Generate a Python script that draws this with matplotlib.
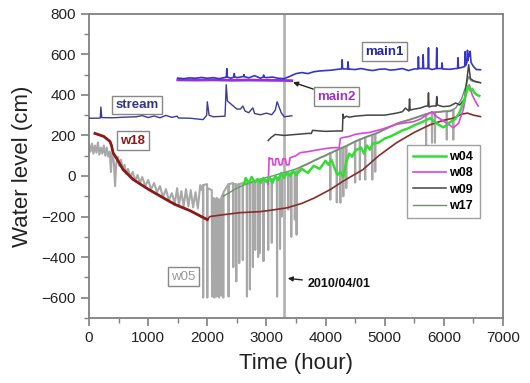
import matplotlib
matplotlib.use("Agg")
import matplotlib.pyplot as plt
from matplotlib.ticker import MultipleLocator

plt.rcParams['font.family'] = ['Liberation Sans', 'DejaVu Sans']

# ---------------- data (hour, water level cm) ----------------
main1_t = [1500, 1600, 1700, 1800, 1900, 2000, 2100, 2200, 2300, 2322,
           2330, 2338, 2400, 2450, 2455, 2462, 2500, 2600, 2612, 2620,
           2628, 2700, 2800, 2900, 2945, 2952, 2960, 3000, 3100, 3200,
           3300, 3400, 3500, 3600, 3700, 3800, 3900, 4000, 4100, 4200,
           4272, 4280, 4288, 4300, 4372, 4380, 4388, 4400, 4500, 4600,
           4700, 4800, 4900, 5000, 5100, 5200, 5300, 5400, 5500, 5562,
           5570, 5578, 5642, 5650, 5658, 5732, 5740, 5748, 5800, 5872,
           5880, 5888, 5900, 5962, 5970, 5978, 6100, 6200, 6232, 6240,
           6248, 6300, 6352, 6360, 6368, 6390, 6400, 6410, 6420, 6430,
           6445, 6460, 6500, 6550, 6620]
main1_v = [483, 480, 484, 482, 486, 482, 485, 480, 486, 488,
           529, 488, 482, 488, 505, 490, 485, 490, 490, 500,
           490, 484, 495, 482, 488, 498, 488, 485, 488, 482,
           480, 492, 505, 510, 505, 514, 518, 520, 522, 526,
           528, 573, 530, 528, 528, 563, 528, 527, 525, 530,
           524, 520, 526, 528, 522, 525, 530, 520, 528, 528,
           588, 530, 530, 598, 530, 530, 632, 530, 525, 530,
           632, 530, 530, 530, 558, 528, 526, 530, 530, 583,
           532, 535, 540, 613, 545, 560, 620, 570, 600, 590,
           615, 560, 540, 525, 524]

main2_t = [1500, 1800, 2100, 2400, 2700, 3000, 3300, 3430]
main2_v = [474, 473, 474, 472, 473, 472, 471, 470]

stream_t = [0, 150, 190, 200, 215, 400, 600, 800, 900, 1000,
            1100, 1200, 1300, 1400, 1490, 1510, 1700, 1930, 1990, 2000,
            2030, 2100, 2300, 2320, 2340, 2420, 2500, 2560, 2600, 2640,
            2700, 2770, 2800, 2900, 3000, 3090, 3150, 3180, 3250, 3300,
            3430]
stream_v = [285, 285, 286, 340, 288, 287, 290, 292, 298, 288,
            296, 287, 299, 289, 295, 286, 285, 278, 300, 366,
            300, 292, 295, 450, 370, 350, 330, 330, 345, 320,
            312, 336, 308, 302, 310, 302, 325, 366, 312, 292,
            297]

w18_t = [100, 250, 355, 380, 406, 500, 575, 744, 1000, 1250, 1450, 1700, 1800, 1930, 2000,
         2046, 2300, 2553, 2890, 3100, 3350, 3600, 3800, 4080, 4300, 4530, 4630, 4900, 5200,
         5500, 5770, 6000, 6160, 6300, 6400, 6500, 6620]
w18_v = [210, 195, 170, 150, 115, 70, 32, -17, -65, -107, -140, -170, -185, -205, -215,
         -200, -190, -181, -176, -168, -157, -135, -110, -67, -25, 14, 31, 100, 164,
         215, 253, 275, 285, 305, 310, 300, 293]

w05_t = [0, 25, 50, 75, 100, 125, 150, 175, 200, 225, 250, 275, 300, 325, 350, 370, 390, 420,
         440, 460, 490, 510, 540, 570, 600, 630, 660, 700, 740, 780, 820, 860, 900, 950, 1000,
         1050, 1100, 1150, 1200, 1250, 1300, 1350, 1400, 1450, 1490, 1520, 1560, 1600, 1640,
         1680, 1720, 1760, 1800, 1840, 1880, 1910,
         1926, 1930, 1934, 1996, 2000, 2004, 2076, 2080, 2084, 2116, 2120, 2124,
         2156, 2160, 2164, 2196, 2200, 2204, 2236, 2240, 2244, 2266, 2270, 2274,
         2356, 2360, 2364, 2436, 2440, 2444, 2486, 2490, 2494, 2536, 2540, 2544,
         2596, 2600, 2604, 2666, 2670, 2674, 2716, 2720, 2724, 2766, 2770, 2774,
         2806, 2810, 2814, 2856, 2860, 2864, 2886, 2890, 2894, 2946, 2950, 2954,
         3026, 3030, 3034, 3086, 3090, 3094, 3176, 3180, 3184, 3226, 3230, 3234,
         3256, 3260, 3264, 3366, 3370, 3374, 3416, 3420, 3424, 3476, 3480, 3484,
         3506, 3510, 3514,
         3600, 3700, 3800, 3900, 4000,
         4076, 4080, 4084, 4186, 4190, 4194, 4246, 4250, 4254, 4296, 4300, 4304,
         4346, 4350, 4354, 4496, 4500, 4504, 4576, 4580, 4584, 4666, 4670, 4674,
         4786, 4790, 4794, 4836, 4840, 4844, 5000, 5200, 5400, 5600,
         5696, 5700, 5704, 5796, 5800, 5804, 5846, 5850, 5854, 6046, 6050, 6054,
         6156, 6160, 6164]
w05_v = [155, 120, 160, 110, 150, 115, 165, 105, 140, 110, 150, 100, 140, 95, 120, 20, 110, 70,
         -50, 60, 95, 50, 80, 30, 55, 10, 35, -5, 20, -25, 5, -35, -5, -50, -20,
         -65, -35, -80, -50, -105, -65, -120, -85, -135, -60, -145, -75, -150, -65,
         -150, -70, -155, -80, -160, -45, -70,
         -45, -600, -45, -40, -600, -60, -70, -595, -110, -110, -600, -120,
         -110, -595, -110, -120, -600, -120, -110, -590, -100, -90, -600, -80,
         -40, -595, -40, -35, -450, -40, -40, -520, -45, -40, -430, -40,
         -35, -415, -35, -35, -595, -40, -35, -560, -35, -30, -450, -30,
         -30, -365, -30, -25, -400, -25, -25, -380, -25, -20, -420, -20,
         -20, -365, -20, -15, -330, -15, -10, -595, -10, -5, -360, -5,
         0, -200, 0, 10, -166, 10, 15, -300, 15, 20, -215, 20,
         25, -290, 25,
         47, 60, 75, 88, 100,
         113, -117, 113, 128, -130, 128, 137, -132, 137, 141, -100, 141,
         148, -60, 148, 170, -33, 170, 180, -18, 180, 190, -18, 190,
         203, -18, 203, 208, 21, 208, 230, 257, 276, 295,
         305, 150, 305, 313, 164, 313, 314, 164, 314, 319, 179, 319,
         325, 179, 325]

w04_t = [2620, 2650, 2700, 2750, 2800, 2850, 2900, 2950, 3000, 3050, 3100, 3150, 3200, 3250,
         3300, 3350, 3400, 3450, 3500, 3600, 3700, 3800, 3900, 4000, 4050, 4100, 4150, 4200,
         4250, 4300, 4350, 4400, 4450, 4500, 4600, 4650, 4700, 4750, 4800, 4900, 5000, 5100,
         5200, 5300, 5400, 5500, 5600, 5700, 5770, 5850, 5900, 5990, 6050, 6100, 6190, 6260,
         6330, 6380, 6410, 6450, 6480, 6520, 6560, 6600]
w04_v = [-40, -10, -35, -5, -30, -15, -35, -10, -30, -5, -35, 0, -20, 15,
         -10, 20, 0, 25, 5, 35, 15, 50, 35, 75, 55, 80, 40, 5,
         20, -5, 70, 110, 95, 125, 140, 110, 150, 130, 160, 165, 185, 195,
         210, 225, 235, 250, 262, 275, 285, 265, 255, 240, 250, 265, 280, 310,
         360, 410, 445, 420, 430, 410, 400, 395]

w08_t = [3030, 3045, 3060, 3100, 3110, 3150, 3160, 3200, 3220, 3260, 3280, 3320, 3340, 3380,
         3400, 3500, 3570, 3700, 3850, 4000, 4100, 4230, 4250, 4300, 4400, 4500, 4600, 4750,
         4920, 5050, 5200, 5350, 5490, 5600, 5700, 5800, 5880, 5950, 6050, 6160, 6250, 6330,
         6390, 6430, 6480, 6530, 6580]
w08_v = [-40, 90, 85, 85, 55, 55, 85, 85, 55, 55, 85, 85, 55, 55,
         90, 100, 115, 120, 128, 135, 139, 140, 185, 190, 195, 205, 210, 215,
         228, 240, 255, 262, 268, 280, 300, 317, 292, 280, 260, 238, 260, 330,
         425, 450, 400, 370, 345]

w09_t = [3030, 3080, 3150, 3300, 3500, 3700, 3760, 3780, 4000, 4200,
         4285, 4295, 4310, 4350, 4400, 4500, 4700, 4900, 5000, 5100,
         5200, 5300, 5350, 5410, 5420, 5430, 5500, 5600, 5700, 5730,
         5740, 5750, 5800, 5870, 5880, 5890, 5990, 6100, 6200, 6270,
         6350, 6400, 6420, 6450, 6500, 6550, 6620]
w09_v = [175, 190, 205, 200, 205, 210, 210, 225, 220, 222,
         222, 305, 285, 295, 290, 295, 300, 300, 300, 305,
         310, 317, 335, 320, 380, 325, 330, 335, 345, 345,
         410, 340, 345, 345, 392, 350, 342, 345, 360, 350,
         380, 500, 549, 480, 470, 465, 460]

w17_t = [2270, 2500, 2700, 2900, 3100, 3350, 3500, 3700, 3940, 4100, 4330, 4500, 4700, 4900,
         5090, 5260, 5430, 5600, 5770, 5900, 6000, 6100, 6200, 6300, 6380, 6420, 6460, 6520, 6620]
w17_v = [-100, -60, -35, -15, 0, 21, 35, 60, 95, 115, 145, 170, 194, 215,
         243, 265, 278, 295, 312, 315, 320, 318, 335, 380, 450, 490, 470, 465, 460]

event_hour = 3300

# ---------------- figure ----------------
fig = plt.figure(figsize=(5.30, 3.83), dpi=100)
ax = fig.add_axes([0.168, 0.170, 0.781, 0.794])

ax.axvline(event_hour, color='#b4b4b4', lw=2.0, zorder=1)

ax.plot(w05_t, w05_v, color='#a8a8a8', lw=1.5, zorder=2)
ax.plot(w18_t, w18_v, color='#8b2a2a', lw=1.2, zorder=3)
n18 = 15
ax.plot(w18_t[:n18], w18_v[:n18], color='#8b1a1a', lw=2.0, zorder=3)
l17, = ax.plot(w17_t, w17_v, color='#6f8f6f', lw=1.0, zorder=4, label='w17')
l09, = ax.plot(w09_t, w09_v, color='#444444', lw=1.1, zorder=4, label='w09')
l08, = ax.plot(w08_t, w08_v, color='#dd44dd', lw=1.2, zorder=5, label='w08')
l04, = ax.plot(w04_t, w04_v, color='#33dd33', lw=1.8, zorder=6, label='w04')
ax.plot(stream_t, stream_v, color='#3b3b99', lw=1.0, zorder=5)
ax.plot(main2_t, main2_v, color='#9b30d9', lw=2.0, zorder=5)
ax.plot(main1_t, main1_v, color='#3535cc', lw=1.2, zorder=6)

ax.set_xlim(0, 7000)
ax.set_ylim(-700, 800)
ax.xaxis.set_major_locator(MultipleLocator(1000))
ax.xaxis.set_minor_locator(MultipleLocator(500))
ax.set_yticks(range(-600, 801, 200))
ax.yaxis.set_minor_locator(MultipleLocator(100))

for s in ax.spines.values():
    s.set_color('#808080')
    s.set_linewidth(1.3)
ax.tick_params(which='major', direction='out', length=6, width=1.2, colors='#808080',
               labelcolor='#222222', labelsize=11)
ax.tick_params(which='minor', direction='out', length=3.5, width=1.0, colors='#808080')

ax.set_xlabel('Time (hour)', fontsize=16, color='#222222', labelpad=6)
ax.set_ylabel('Water level (cm)', fontsize=16, color='#222222', labelpad=6)

box = dict(boxstyle='square,pad=0.25', fc='white', ec='#888888', lw=1.0)
ax.text(5000, 613, 'main1', color='#2222aa', fontsize=9.5, fontweight='bold',
        ha='center', va='center', bbox=box, zorder=8)
ax.annotate('main2', xy=(3450, 462), xytext=(4180, 391), color='#9933cc', fontsize=9.5,
            fontweight='bold', ha='center', va='center', bbox=box, zorder=8,
            arrowprops=dict(arrowstyle='-|>', color='#222222', lw=1.0, mutation_scale=7,
                            shrinkA=0, shrinkB=0))
ax.text(810, 351, 'stream', color='#333388', fontsize=9.5, fontweight='bold',
        ha='center', va='center', bbox=box, zorder=8)
ax.text(740, 174, 'w18', color='#8b1a1a', fontsize=9.5, fontweight='bold',
        ha='center', va='center', bbox=box, zorder=8)
ax.text(1600, -496, 'w05', color='#999999', fontsize=9.5,
        ha='center', va='center', bbox=box, zorder=8)
ax.annotate('2010/04/01', xy=(3360, -505), xytext=(3700, -532), color='#111111', fontsize=9,
            fontweight='bold', ha='left', va='center', zorder=8,
            arrowprops=dict(arrowstyle='-|>', color='#222222', lw=1.0, mutation_scale=7,
                            shrinkA=2, shrinkB=0))

leg = ax.legend(handles=[l04, l08, l09, l17], loc='upper left', bbox_to_anchor=(0.768, 0.569),
                prop={'weight': 'bold', 'size': 9}, frameon=True, fancybox=False,
                handlelength=2.6, handletextpad=0.3, labelspacing=0.35, borderpad=0.5,
                borderaxespad=0)
leg.get_frame().set_edgecolor('#888888')
leg.get_frame().set_linewidth(1.0)
leg.set_zorder(9)

fig.savefig('out.png', dpi=100)
